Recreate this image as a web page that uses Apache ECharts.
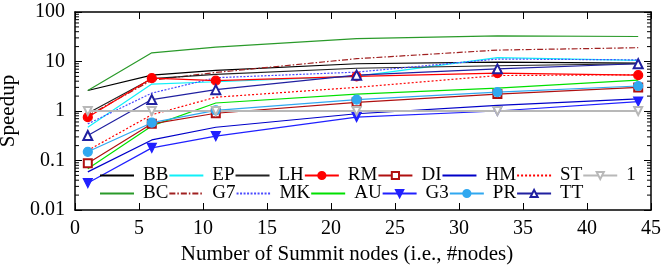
<!DOCTYPE html>
<html>
<head>
<meta charset="utf-8">
<script src="https://cdn.jsdelivr.net/npm/echarts@6/dist/echarts.min.js"></script>
<style>
  html, body { margin: 0; padding: 0; background: #fff; }
  #chart { width: 665px; height: 272px; }
</style>
</head>
<body>
<div id="chart"></div>
<script>
// x values: number of Summit nodes
const nodes = [1, 6, 11, 22, 33, 44]

// speedup per application
const BB = [2.6, 5.3, 6.6, 9.0, 9.7, 9.3]
const BC = [2.6, 15, 19.5, 29, 33, 32]
const EP = [0.47, 3.5, 3.9, 5.0, 12, 10.5]
const G7 = [0.8, 4.2, 6.0, 11.4, 17, 19]
const LH = [0.9, 4.5, 5.5, 7.3, 8.2, 9.0]
const MK = [0.55, 2.3, 4.7, 6.1, 11.2, 10.8]
const RM = [0.75, 4.6, 4.1, 5.0, 5.8, 5.3]
const AU = [0.068, 0.5, 1.45, 2.2, 2.9, 4.2]
const DI = [0.088, 0.55, 0.9, 1.5, 2.2, 3.0]
const G3 = [0.035, 0.18, 0.31, 0.75, 1.0, 1.55]
const HM = [0.059, 0.26, 0.47, 0.88, 1.3, 1.75]
const PR = [0.15, 0.58, 1.03, 1.7, 2.4, 3.2]
const ST = [0.16, 0.84, 1.9, 3.0, 5.2, 5.4]
const TT = [0.32, 1.7, 2.7, 5.3, 7.1, 9.0]
const ONE = [1, 1, 1, 1, 1, 1]

const legendRow1 = ['BB', 'EP', 'LH', 'RM', 'DI', 'HM', 'ST', '1']
const legendRow2 = ['BC', 'G7', 'MK', 'AU', 'G3', 'PR', 'TT']
// series drawn with a marker (others get a plain line in the key)
const withMarker = ['RM', 'DI', 'G3', 'PR', 'TT', '1']

// log minor ticks 2..9 in every decade
const decades = [0.01, 0.1, 1, 10]
const minorTicks = []
decades.forEach(d => { for (let k = 2; k <= 9; k++) minorTicks.push(+(d * k).toPrecision(2)) })

const font = 'Liberation Serif'

const chart = echarts.init(document.getElementById('chart'), null, { renderer: 'canvas' })

const pts = vals => nodes.map((n, i) => [n, vals[i]])

const mk = (name, vals, color, opts = {}) => ({
  name,
  type: 'line',
  data: pts(vals),
  symbol: opts.symbol || 'none',
  symbolSize: opts.size || 8,
  symbolRotate: opts.rotate || 0,
  showSymbol: !!opts.symbol,
  lineStyle: { color, width: opts.width || 1.2, type: opts.dash || 'solid' },
  itemStyle: { color, borderColor: color, borderWidth: 1.2 },
  emphasis: { disabled: true },
  animation: false,
  z: opts.z || 2
})

const series = [
  mk('BB', BB, '#000000'),
  mk('BC', BC, '#2a9a2a'),
  mk('EP', EP, '#10f0f8'),
  mk('G7', G7, '#a02020', { dash: [6, 2, 1.5, 2] }),
  mk('LH', LH, '#222222'),
  mk('MK', MK, '#4a4aff', { dash: [2, 1.5] }),
  mk('RM', RM, '#ff0000', { symbol: 'circle', size: 9 }),
  mk('AU', AU, '#00e000'),
  mk('DI', DI, '#b01010', { symbol: 'emptyRect', size: 8 }),
  mk('G3', G3, '#2020ff', { symbol: 'triangle', rotate: 180, size: 9 }),
  mk('HM', HM, '#0000c8'),
  mk('PR', PR, '#30a8f0', { symbol: 'circle', size: 9 }),
  mk('ST', ST, '#ff0000', { dash: [2, 2] }),
  mk('TT', TT, '#2020a0', { symbol: 'emptyTriangle', size: 9 }),
  mk('1', ONE, '#b8b8b8', { symbol: 'emptyTriangle', rotate: 180, size: 8, width: 2 })
]

// minor ticks on left and right frame edges
series.push({
  type: 'custom',
  coordinateSystem: 'cartesian2d',
  data: minorTicks.map(v => [0, v]),
  silent: true,
  animation: false,
  z: 5,
  renderItem: (params, api) => {
    const l = api.coord([0, api.value(1)])
    const r = api.coord([45, api.value(1)])
    const st = { stroke: '#000', lineWidth: 1 }
    return {
      type: 'group',
      children: [
        { type: 'line', shape: { x1: l[0], y1: l[1], x2: l[0] + 4, y2: l[1] }, style: st },
        { type: 'line', shape: { x1: r[0] - 4, y1: r[1], x2: r[0], y2: r[1] }, style: st }
      ]
    }
  }
})

const legendItems = names => names.map(n => (
  withMarker.includes(n) ? { name: n } : { name: n, itemStyle: { opacity: 0 } }
))

const legendBase = {
  orient: 'horizontal',
  left: 99,
  padding: 0,
  itemWidth: 34,
  itemHeight: 9,
  itemGap: 0,
  selectedMode: false,
  textStyle: {
    fontFamily: font, fontSize: 19, color: '#000',
    width: 26, padding: [0, 0, 0, 4]
  }
}

const xBase = {
  type: 'value', min: 0, max: 45, interval: 5,
  axisLine: { show: true, onZero: false, lineStyle: { color: '#000', width: 1.5 } },
  axisTick: { show: true, inside: true, length: 7, lineStyle: { color: '#000' } },
  splitLine: { show: false }
}

const yBase = {
  type: 'log', logBase: 10, min: 0.01, max: 100,
  axisLine: { show: true, onZero: false, lineStyle: { color: '#000', width: 1.5 } },
  axisTick: { show: true, inside: true, length: 7, lineStyle: { color: '#000' } },
  minorTick: { show: false },
  splitLine: { show: false }
}

chart.setOption({
  backgroundColor: '#fff',
  animation: false,
  grid: { left: 75, right: 14, top: 12, bottom: 62, outerBoundsMode: 'none', containLabel: false },
  legend: [
    Object.assign({}, legendBase, { data: legendItems(legendRow1), top: 166 }),
    Object.assign({}, legendBase, { data: legendItems(legendRow2), top: 184 })
  ],
  xAxis: [
    Object.assign({}, xBase, {
      position: 'bottom',
      name: 'Number of Summit nodes (i.e., #nodes)',
      nameLocation: 'middle',
      nameGap: 33,
      nameTextStyle: { fontFamily: font, fontSize: 21, color: '#000', padding: [0, 32, 0, 0] },
      axisLabel: { fontFamily: font, fontSize: 20, color: '#000', margin: 9 }
    }),
    Object.assign({}, xBase, { position: 'top', axisLabel: { show: false } })
  ],
  yAxis: [
    Object.assign({}, yBase, {
      position: 'left',
      name: 'Speedup',
      nameLocation: 'middle',
      nameGap: 50,
      nameTextStyle: { fontFamily: font, fontSize: 21, color: '#000' },
      axisLabel: { fontFamily: font, fontSize: 20, color: '#000', margin: 10 }
    }),
    Object.assign({}, yBase, { position: 'right', axisLabel: { show: false } })
  ],
  series
})
</script>
</body>
</html>
